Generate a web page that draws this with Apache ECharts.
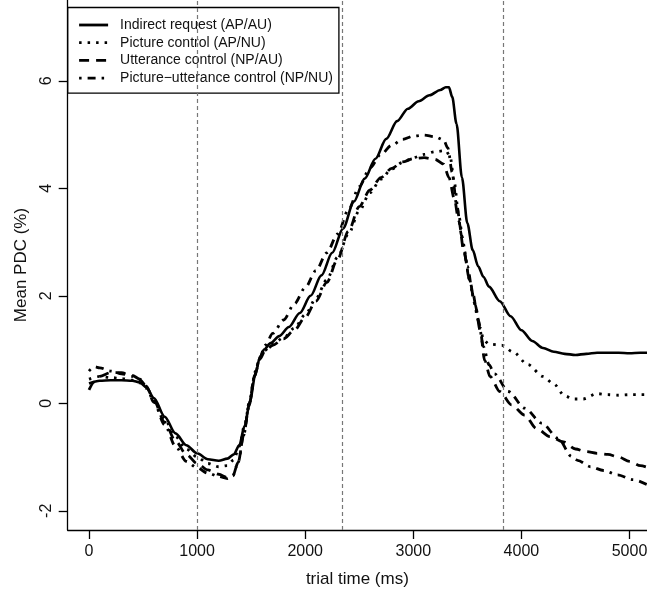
<!DOCTYPE html>
<html>
<head>
<meta charset="utf-8">
<script src="https://cdn.jsdelivr.net/npm/echarts@6/dist/echarts.min.js"></script>
<style>
html,body{margin:0;padding:0;background:#fff;}
#chart{width:647px;height:589px;}
</style>
</head>
<body>
<div id="chart"></div>
<script>
// ---- data (time in ms, mean PDC in %) ----
const seriesNames = [
  'Indirect request (AP/AU)',
  'Picture control (AP/NU)',
  'Utterance control (NP/AU)',
  'Picture\u2212utterance control (NP/NU)'
];
const xTicks = [0, 1000, 2000, 3000, 4000, 5000];
const yTicks = [-2, 0, 2, 4, 6];
const eventTimes = [1000, 2340, 3835];

const indirectRequest = [
  [0,0.37],[100,0.42],[200,0.43],[300,0.43],[400,0.42],[470,0.39],[530,0.3],[600,0.1],[700,-0.25],[800,-0.56],
  [900,-0.78],[1000,-0.93],[1100,-1.04],[1200,-1.07],[1280,-1.03],[1340,-0.95],[1390,-0.78],[1440,-0.42],[1490,0.05],
  [1540,0.55],[1580,0.85],[1620,1.0],[1680,1.12],[1760,1.25],[1850,1.42],[1950,1.68],[2050,2.0],[2150,2.38],[2250,2.8],
  [2350,3.25],[2450,3.75],[2550,4.18],[2650,4.55],[2750,4.92],[2850,5.25],[2950,5.48],[3050,5.62],[3150,5.73],[3250,5.83],
  [3300,5.88],[3330,5.88],[3360,5.7],[3400,5.2],[3450,4.2],[3500,3.35],[3550,2.85],[3600,2.55],[3650,2.35],[3700,2.17],
  [3800,1.9],[3900,1.62],[4000,1.36],[4100,1.16],[4200,1.03],[4300,0.96],[4400,0.92],[4500,0.9],[4600,0.92],[4700,0.94],
  [4800,0.94],[4900,0.94],[5000,0.93],[5100,0.94],[5200,0.94]
];
const pictureControl = [
  [0,0.45],[100,0.5],[200,0.48],[300,0.46],[400,0.43],[470,0.38],[530,0.28],[600,0.05],[700,-0.3],[800,-0.62],
  [900,-0.85],[1000,-1.0],[1100,-1.12],[1200,-1.18],[1280,-1.16],[1340,-1.05],[1390,-0.8],[1440,-0.4],[1490,0.1],
  [1540,0.6],[1580,0.85],[1620,0.98],[1700,1.1],[1800,1.22],[1900,1.4],[2000,1.65],[2100,1.95],[2200,2.3],[2300,2.72],
  [2400,3.15],[2500,3.58],[2600,3.92],[2700,4.17],[2800,4.36],[2900,4.48],[3000,4.57],[3100,4.63],[3200,4.68],[3300,4.7],
  [3340,4.6],[3380,4.1],[3420,3.5],[3470,2.85],[3520,2.3],[3570,1.85],[3620,1.4],[3650,1.18],[3700,1.1],[3820,1.08],
  [3920,0.96],[4060,0.72],[4200,0.5],[4300,0.36],[4400,0.14],[4480,0.08],[4570,0.08],[4700,0.18],[4800,0.16],[4900,0.15],
  [5000,0.16],[5100,0.16],[5200,0.16]
];
const utteranceControl = [
  [0,0.25],[50,0.4],[100,0.5],[200,0.57],[300,0.57],[400,0.52],[470,0.45],[530,0.32],[600,0.05],[700,-0.35],
  [800,-0.7],[900,-0.95],[1000,-1.12],[1100,-1.24],[1200,-1.32],[1280,-1.38],[1330,-1.35],[1380,-1.1],[1430,-0.6],
  [1480,-0.05],[1530,0.5],[1580,0.82],[1630,0.98],[1700,1.08],[1800,1.2],[1900,1.36],[2000,1.6],[2100,1.9],[2200,2.25],
  [2300,2.68],[2400,3.2],[2500,3.66],[2600,3.97],[2700,4.2],[2800,4.37],[2900,4.49],[3000,4.55],[3100,4.57],[3200,4.54],
  [3280,4.45],[3330,4.2],[3380,3.8],[3420,3.4],[3470,2.8],[3520,2.3],[3570,1.85],[3620,1.35],[3660,0.8],[3710,0.5],
  [3800,0.22],[3910,-0.03],[4030,-0.22],[4140,-0.47],[4265,-0.62],[4390,-0.72],[4500,-0.85],[4600,-0.9],[4700,-0.93],
  [4800,-0.95],[4900,-1.0],[5000,-1.08],[5100,-1.16],[5200,-1.22]
];
const pictureUtteranceControl = [
  [0,0.6],[50,0.68],[100,0.66],[200,0.6],[300,0.55],[400,0.5],[470,0.44],[530,0.32],[600,0.02],[700,-0.4],
  [800,-0.8],[900,-1.08],[1000,-1.2],[1100,-1.3],[1200,-1.36],[1280,-1.4],[1330,-1.35],[1380,-1.1],[1430,-0.6],
  [1480,-0.05],[1530,0.5],[1580,0.85],[1630,1.08],[1700,1.3],[1800,1.55],[1900,1.85],[2000,2.15],[2100,2.47],[2200,2.8],
  [2300,3.15],[2400,3.6],[2500,4.03],[2600,4.38],[2700,4.63],[2800,4.8],[2900,4.91],[3000,4.97],[3100,4.99],[3200,4.96],
  [3280,4.9],[3320,4.75],[3360,4.3],[3400,3.7],[3450,3.1],[3500,2.55],[3550,2.05],[3600,1.55],[3650,1.05],[3700,0.72],
  [3750,0.55],[3880,0.22],[4030,-0.09],[4190,-0.37],[4340,-0.65],[4465,-0.99],[4520,-1.06],[4640,-1.18],[4760,-1.25],
  [4890,-1.33],[5030,-1.42],[5200,-1.55]
];

const FONT = 'Liberation Sans, Arial, Helvetica, sans-serif';
const chart = echarts.init(document.getElementById('chart'), null, {renderer: 'canvas'});

function lineSeries(name, data, type, width) {
  return {
    name: name,
    type: 'line',
    data: data,
    symbol: 'none',
    smooth: 0.3,
    smoothMonotone: 'x',
    animation: false,
    clip: true,
    lineStyle: {color: '#000', width: width, type: type, cap: 'butt'},
    itemStyle: {color: '#000'}
  };
}

const s1 = lineSeries(seriesNames[0], indirectRequest, 'solid', 2.6);
s1.markLine = {
  silent: true,
  symbol: ['none', 'none'],
  label: {show: false},
  animation: false,
  lineStyle: {color: '#777', type: [4, 3], width: 1.2},
  data: eventTimes.map(t => ({xAxis: t}))
};
const s2 = lineSeries(seriesNames[1], pictureControl, [2.5, 6], 2.8);
const s3 = lineSeries(seriesNames[2], utteranceControl, [10, 7], 2.8);
const s4 = lineSeries(seriesNames[3], pictureUtteranceControl, [2.5, 6, 8, 6], 2.8);

const plainNum = v => String(v);

chart.setOption({
  backgroundColor: '#fff',
  animation: false,
  textStyle: {fontFamily: FONT},
  grid: {left: 67.7, right: 0, top: 0, bottom: 59, containLabel: false, outerBoundsMode: 'none'},
  legend: {
    orient: 'vertical',
    left: 67.7,
    top: 7.5,
    data: seriesNames,
    borderColor: '#000',
    borderWidth: 1.3,
    borderRadius: 0,
    padding: [10, 6, 7.5, 10],
    itemWidth: 29,
    itemHeight: 14,
    itemGap: 2.7,
    selectedMode: false,
    itemStyle: {opacity: 0, borderWidth: 0},
    lineStyle: {width: 2.8, color: '#000'},
    textStyle: {fontFamily: FONT, fontSize: 14, color: '#111', lineHeight: 15, padding: [0, 0, 0, 7]}
  },
  xAxis: {
    type: 'value',
    min: -197,
    max: 5162,
    name: 'trial time (ms)',
    nameLocation: 'middle',
    nameGap: 41,
    nameTextStyle: {fontFamily: FONT, fontSize: 17, color: '#111'},
    axisLine: {show: true, onZero: false, lineStyle: {color: '#000', width: 1.3}},
    axisTick: {show: true, inside: false, length: 9, customValues: xTicks, lineStyle: {color: '#000', width: 1.3}},
    axisLabel: {show: true, margin: 14, fontSize: 16, color: '#111', fontFamily: FONT, customValues: xTicks, formatter: plainNum},
    splitLine: {show: false}
  },
  yAxis: {
    type: 'value',
    min: -2.357,
    max: 7.503,
    name: 'Mean PDC (%)',
    nameLocation: 'middle',
    nameRotate: 90,
    nameGap: 38,
    nameTextStyle: {fontFamily: FONT, fontSize: 17, color: '#111'},
    axisLine: {show: true, onZero: false, lineStyle: {color: '#000', width: 1.3}},
    axisTick: {show: true, inside: false, length: 9, customValues: yTicks, lineStyle: {color: '#000', width: 1.3}},
    axisLabel: {show: true, rotate: 90, margin: 13, fontSize: 16, color: '#111', fontFamily: FONT, customValues: yTicks, formatter: plainNum},
    splitLine: {show: false}
  },
  series: [s1, s2, s3, s4]
});
</script>
</body>
</html>
